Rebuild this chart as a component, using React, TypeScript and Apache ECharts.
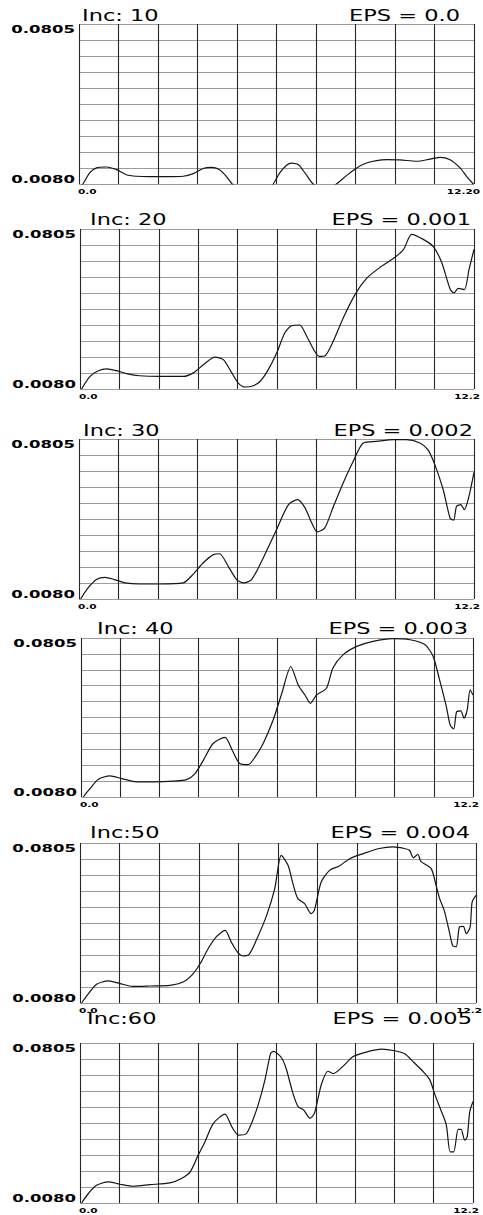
import React, { useEffect, useRef } from "react";
import * as echarts from "echarts";

// ---------- data ----------
const incLabels = ["Inc: 10", "Inc: 20", "Inc: 30", "Inc: 40", "Inc:50", "Inc:60"];
const epsLabels = ["EPS = 0.0", "EPS = 0.001", "EPS = 0.002", "EPS = 0.003", "EPS = 0.004", "EPS = 0.005"];
const yTickLabels = ["0.0080", "0.0805"];
const xMinLabels = ["0.0", "0.0", "0.0", "0.0", "0.0", "0.0"];
const xMaxLabels = ["12.20", "12.2", "12.2", "12.2", "12.2", "12.2"];
const xMin = 0;
const xMax = 12.2;
const xStep = 1.22;
const yMin = 0.008;
const yMax = 0.0805;

const inc10 = [
  [0.0, 0.0062], [0.12, 0.008], [0.33, 0.013], [0.54, 0.0153], [0.84, 0.0157], [1.16, 0.0145],
  [1.46, 0.0122], [1.77, 0.0115], [2.18, 0.0113], [2.7, 0.0113], [3.22, 0.0115], [3.53, 0.0127],
  [3.83, 0.015], [4.09, 0.0155], [4.34, 0.0145], [4.55, 0.0115], [4.73, 0.008], [5.0, 0.004],
  [5.37, 0.003], [5.73, 0.004], [6.0, 0.008], [6.2, 0.013], [6.41, 0.0165], [6.56, 0.0175],
  [6.77, 0.0168], [6.98, 0.013], [7.23, 0.008], [7.6, 0.005], [7.95, 0.008], [8.26, 0.0118],
  [8.58, 0.0153], [8.88, 0.0175], [9.19, 0.0186], [9.5, 0.019], [9.91, 0.0189], [10.43, 0.0183],
  [10.85, 0.0193], [11.15, 0.0201], [11.46, 0.019], [11.77, 0.0153], [11.97, 0.0115], [12.18, 0.008],
  [12.2, 0.0078],
];
const inc20 = [
  [0.05, 0.008], [0.31, 0.0137], [0.57, 0.0163], [0.83, 0.0171], [1.13, 0.0163], [1.44, 0.015],
  [1.85, 0.014], [2.48, 0.0137], [3.2, 0.0137], [3.51, 0.0153], [3.82, 0.019], [4.18, 0.0224],
  [4.44, 0.0213], [4.7, 0.0153], [4.9, 0.0107], [5.11, 0.0089], [5.37, 0.0095], [5.58, 0.0115],
  [5.83, 0.0168], [6.09, 0.0243], [6.34, 0.0334], [6.55, 0.0367], [6.8, 0.037], [7.02, 0.0319],
  [7.27, 0.025], [7.41, 0.0228], [7.59, 0.0231], [7.84, 0.0296], [8.15, 0.0402], [8.52, 0.0509],
  [8.88, 0.0582], [9.28, 0.063], [9.7, 0.0671], [10.02, 0.0713], [10.27, 0.0781], [10.63, 0.0758],
  [10.94, 0.0725], [11.2, 0.0653], [11.46, 0.0533], [11.58, 0.0515], [11.71, 0.0536], [11.9, 0.053],
  [12.05, 0.0624], [12.2, 0.0713],
];
const inc30 = [
  [0.05, 0.008], [0.28, 0.013], [0.54, 0.0168], [0.79, 0.0178], [1.1, 0.0168], [1.42, 0.0153],
  [1.88, 0.0148], [2.49, 0.0148], [3.22, 0.0153], [3.53, 0.0193], [3.83, 0.0243], [4.15, 0.0281],
  [4.34, 0.0285], [4.61, 0.0228], [4.87, 0.0168], [5.08, 0.0153], [5.33, 0.0168], [5.69, 0.0266],
  [6.1, 0.0394], [6.47, 0.0508], [6.75, 0.053], [6.98, 0.0493], [7.19, 0.0424], [7.36, 0.0384],
  [7.59, 0.0402], [7.86, 0.05], [8.16, 0.0606], [8.47, 0.0704], [8.78, 0.0787], [9.19, 0.0794],
  [9.71, 0.0802], [10.11, 0.0802], [10.53, 0.0787], [10.78, 0.0756], [10.99, 0.0689], [11.25, 0.0575],
  [11.46, 0.0447], [11.57, 0.0437], [11.66, 0.05], [11.79, 0.0508], [11.9, 0.0485], [12.03, 0.0537],
  [12.2, 0.0654],
];
const inc40 = [
  [0.07, 0.008], [0.28, 0.0118], [0.54, 0.0161], [0.9, 0.0176], [1.27, 0.0164], [1.73, 0.0149],
  [2.24, 0.0149], [2.87, 0.0152], [3.28, 0.0159], [3.55, 0.0187], [3.81, 0.0248], [4.11, 0.0324],
  [4.48, 0.0352], [4.73, 0.0286], [4.94, 0.0233], [5.21, 0.0228], [5.42, 0.0263], [5.67, 0.0324],
  [5.98, 0.0431], [6.25, 0.0553], [6.53, 0.0675], [6.76, 0.0591], [6.97, 0.0545], [7.14, 0.0507],
  [7.33, 0.0545], [7.64, 0.0576], [7.84, 0.0668], [8.16, 0.0729], [8.58, 0.0767], [9.09, 0.079],
  [9.71, 0.0802], [10.24, 0.0797], [10.7, 0.0775], [10.96, 0.0721], [11.16, 0.0614], [11.37, 0.0492],
  [11.49, 0.0408], [11.6, 0.039], [11.69, 0.0469], [11.82, 0.0473], [11.92, 0.0439], [12.02, 0.0477],
  [12.11, 0.0569], [12.2, 0.0545],
];
const inc50 = [
  [0.05, 0.008], [0.26, 0.0122], [0.51, 0.0165], [0.87, 0.018], [1.23, 0.0168], [1.63, 0.0155],
  [2.15, 0.0157], [2.77, 0.016], [3.18, 0.0175], [3.44, 0.0205], [3.7, 0.0258], [3.95, 0.0327],
  [4.21, 0.0382], [4.47, 0.0409], [4.66, 0.0356], [4.87, 0.0307], [5.03, 0.0293], [5.21, 0.03],
  [5.43, 0.0364], [5.75, 0.0477], [6.0, 0.0598], [6.2, 0.0749], [6.41, 0.0704], [6.56, 0.0621],
  [6.71, 0.0553], [6.92, 0.053], [7.12, 0.0485], [7.22, 0.05], [7.43, 0.0628], [7.69, 0.0681],
  [7.99, 0.0701], [8.31, 0.0734], [8.71, 0.0756], [9.22, 0.078], [9.64, 0.0787], [9.99, 0.078],
  [10.15, 0.0772], [10.27, 0.0738], [10.41, 0.0754], [10.5, 0.0722], [10.82, 0.0689], [10.97, 0.0613],
  [11.08, 0.0553], [11.22, 0.05], [11.38, 0.0402], [11.48, 0.0341], [11.59, 0.0334], [11.69, 0.0424],
  [11.81, 0.0427], [11.9, 0.0394], [12.02, 0.0424], [12.08, 0.0537], [12.2, 0.0568],
];
const inc60 = [
  [0.05, 0.008], [0.26, 0.0123], [0.51, 0.016], [0.88, 0.0176], [1.24, 0.0165], [1.66, 0.0156],
  [2.17, 0.0163], [2.79, 0.0171], [3.15, 0.0191], [3.42, 0.0221], [3.67, 0.0297], [3.88, 0.0358],
  [4.14, 0.0441], [4.5, 0.0483], [4.71, 0.0426], [4.92, 0.0388], [5.17, 0.0395], [5.48, 0.0502],
  [5.73, 0.0631], [5.92, 0.0759], [6.01, 0.0767], [6.26, 0.0737], [6.41, 0.0684], [6.61, 0.0577],
  [6.77, 0.0517], [6.94, 0.0502], [7.14, 0.0464], [7.28, 0.0487], [7.49, 0.0616], [7.7, 0.0677],
  [7.86, 0.0666], [8.16, 0.0699], [8.48, 0.0744], [8.89, 0.0764], [9.36, 0.0777], [9.77, 0.077],
  [10.08, 0.0756], [10.33, 0.0722], [10.65, 0.0676], [10.86, 0.0638], [11.02, 0.057], [11.16, 0.0517],
  [11.37, 0.0434], [11.49, 0.0312], [11.6, 0.0312], [11.74, 0.0414], [11.83, 0.0414], [11.94, 0.0365],
  [12.02, 0.038], [12.1, 0.0494], [12.2, 0.054],
];
const seriesData = [inc10, inc20, inc30, inc40, inc50, inc60];

// ---------- layout ----------
const boxes = [
  { left: 79, top: 24, right: 474, bottom: 184 },
  { left: 80, top: 229, right: 474, bottom: 389 },
  { left: 79, top: 439, right: 474, bottom: 599 },
  { left: 81, top: 638, right: 473, bottom: 797 },
  { left: 80, top: 843, right: 476, bottom: 1003 },
  { left: 80, top: 1043, right: 473, bottom: 1203 },
];
const titleLeft = [82, 90, 83, 97, 90, 87];
const titleRight = [460, 471, 473, 468, 470, 472];
const titleY = [16, 220, 431, 629, 833, 1019];
const FONT = "DejaVu Sans";
const SX = 1.5;

export default function App() {
  const ref = useRef<HTMLDivElement>(null);
  useEffect(() => {
    if (!ref.current) return;
    const chart = echarts.init(ref.current, undefined, { renderer: "svg" });
    const grid: any[] = [];
    const xAxis: any[] = [];
    const yAxis: any[] = [];
    const series: any[] = [];
    const graphic: any[] = [];
    boxes.forEach((b, i) => {
      grid.push({ left: b.left, top: b.top, width: b.right - b.left, height: b.bottom - b.top, show: false });
      xAxis.push({
        type: "value", gridIndex: i, min: xMin, max: xMax, interval: xStep,
        axisLine: { show: false }, axisTick: { show: false }, axisLabel: { show: false },
        splitLine: { show: true, showMinLine: true, showMaxLine: true, lineStyle: { color: "#262626", width: 1.1 } },
      });
      // helper axis for the 10 horizontal grid rows
      yAxis.push({
        type: "value", gridIndex: i, min: 0, max: 10, interval: 1,
        axisLine: { show: false }, axisTick: { show: false }, axisLabel: { show: false },
        splitLine: { show: true, showMinLine: true, showMaxLine: true, lineStyle: { color: "#9c9c9c", width: 1 } },
      });
      // data axis
      yAxis.push({
        type: "value", gridIndex: i, min: yMin, max: yMax, show: false,
        splitLine: { show: false },
      });
      series.push({
        type: "line", xAxisIndex: i, yAxisIndex: 2 * i + 1, data: seriesData[i],
        showSymbol: false, smooth: 0.25, clip: true,
        lineStyle: { color: "#151515", width: 1.2 },
      });
      graphic.push(
        { type: "text", x: titleLeft[i], y: titleY[i], scaleX: SX,
          style: { text: incLabels[i], fontFamily: FONT, fontSize: 15, fill: "#000", textAlign: "left", textVerticalAlign: "middle" } },
        { type: "text", x: titleRight[i], y: titleY[i], scaleX: SX,
          style: { text: epsLabels[i], fontFamily: FONT, fontSize: 15, fill: "#000", textAlign: "right", textVerticalAlign: "middle" } },
        { type: "text", x: b.left - 4, y: b.top + 5, scaleX: SX,
          style: { text: yTickLabels[1], fontFamily: FONT, fontSize: 11, fontWeight: "bold", fill: "#000", textAlign: "right", textVerticalAlign: "middle" } },
        { type: "text", x: b.left - 4, y: b.bottom - 5, scaleX: SX,
          style: { text: yTickLabels[0], fontFamily: FONT, fontSize: 11, fontWeight: "bold", fill: "#000", textAlign: "right", textVerticalAlign: "middle" } },
        { type: "text", x: b.left - 1, y: b.bottom + 8, scaleX: SX,
          style: { text: xMinLabels[i], fontFamily: FONT, fontSize: 7, fontWeight: "bold", fill: "#000", textAlign: "left", textVerticalAlign: "middle" } },
        { type: "text", x: b.right + 6, y: b.bottom + 8, scaleX: SX,
          style: { text: xMaxLabels[i], fontFamily: FONT, fontSize: 7, fontWeight: "bold", fill: "#000", textAlign: "right", textVerticalAlign: "middle" } },
      );
    });
    chart.setOption({
      animation: false,
      backgroundColor: "#fff",
      grid, xAxis, yAxis, series, graphic,
    });
    return () => chart.dispose();
  }, []);
  return <div ref={ref} style={{ position: "absolute", left: 0, top: 0, width: 483, height: 1215 }} />;
}
